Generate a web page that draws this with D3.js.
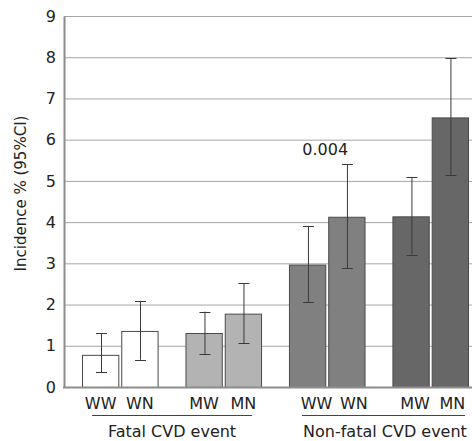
<!DOCTYPE html>
<html>
<head>
<meta charset="utf-8">
<script src="https://cdn.jsdelivr.net/npm/d3@7"></script>
<style>
    body { margin: 0; background: #fff; }
    svg text { font-family: "DejaVu Sans", Verdana, sans-serif; fill: #222; }
</style>
</head>
<body>
<div id="chart"></div>
<script>
    // groups of bars, two bars per pair
    var groups = ['Fatal CVD event', 'Non-fatal CVD event'];
    var pairs = ['F-W', 'F-M', 'N-W', 'N-M'];
    var pairGroup = [0, 0, 1, 1];
    var barLabels = [['WW', 'WN'], ['MW', 'MN'], ['WW', 'WN'], ['MW', 'MN']];
    var incidence = [[0.78, 1.36], [1.31, 1.78], [2.97, 4.13], [4.14, 6.54]];
    var ciLow = [[0.36, 0.66], [0.79, 1.06], [2.05, 2.88], [3.21, 5.14]];
    var ciHigh = [[1.31, 2.09], [1.83, 2.52], [3.91, 5.40], [5.09, 7.97]];
    var pairColors = ['#ffffff', '#b3b3b3', '#808080', '#676767'];
    var yTicks = [0, 1, 2, 3, 4, 5, 6, 7, 8, 9];
    var pValue = '0.004';

    var W = 472, H = 441;
    var margin = {top: 16, right: 0, bottom: 54, left: 64};
    var height = H - margin.top - margin.bottom;
    var width = W - margin.left - margin.right;
    var labelShift = [0, 0, 9, 4];

    var svg = d3.select('#chart').append('svg')
        .attr('width', W)
        .attr('height', H);

    var g = svg.append('g')
        .attr('transform', 'translate(' + margin.left + ',' + margin.top + ')');

    var y = d3.scaleLinear().domain([0, 9]).range([height, 0]);

    var x0 = d3.scaleBand()
        .domain(pairs)
        .range([18, 405])
        .paddingInner(0.26)
        .paddingOuter(0);

    var x1 = d3.scaleBand()
        .domain([0, 1])
        .range([0, x0.bandwidth()])
        .paddingInner(0.05);

    // grid lines
    g.append('g')
        .selectAll('line')
        .data(yTicks.slice(1))
        .enter().append('line')
        .attr('x1', 0)
        .attr('x2', width)
        .attr('y1', function (d) { return y(d) + 0.5; })
        .attr('y2', function (d) { return y(d) + 0.5; })
        .attr('stroke', '#a6a6a6')
        .attr('stroke-width', 1);

    // y axis
    var yAxis = g.append('g')
        .call(d3.axisLeft(y).tickValues(yTicks).tickSize(0).tickPadding(8));
    yAxis.select('.domain').attr('stroke', '#8c8c8c').attr('stroke-width', 2);
    yAxis.selectAll('text').style('font-size', '16px').attr('fill', '#222');

    g.append('text')
        .attr('transform', 'translate(' + (21 - margin.left) + ',' + (height / 2 - 8) + ') rotate(-90)')
        .attr('text-anchor', 'middle')
        .attr('dy', '0.35em')
        .style('font-size', '15px')
        .text('Incidence % (95%CI)');

    // bars
    var pair = g.selectAll('.pair')
        .data(pairs)
        .enter().append('g')
        .attr('class', 'pair')
        .attr('transform', function (d) { return 'translate(' + x0(d) + ',0)'; });

    pair.each(function (p, i) {
        var pg = d3.select(this);
        var rows = [0, 1].map(function (j) {
            return {j: j, v: incidence[i][j], lo: ciLow[i][j], hi: ciHigh[i][j], label: barLabels[i][j]};
        });

        pg.selectAll('rect')
            .data(rows)
            .enter().append('rect')
            .attr('x', function (d) { return x1(d.j) + 0.5; })
            .attr('y', function (d) { return y(d.v) + 0.5; })
            .attr('width', x1.bandwidth() - 1)
            .attr('height', function (d) { return height - y(d.v); })
            .attr('fill', pairColors[i])
            .attr('stroke', '#4a4a4a')
            .attr('stroke-width', 1);

        var err = pg.selectAll('.err')
            .data(rows)
            .enter().append('g')
            .attr('class', 'err')
            .attr('transform', function (d) {
                return 'translate(' + (Math.round(x1(d.j) + x1.bandwidth() / 2) + 0.5) + ',0)';
            });
        err.append('line')
            .attr('y1', function (d) { return y(d.hi); })
            .attr('y2', function (d) { return y(d.lo); })
            .attr('stroke', '#3a3a3a');
        err.append('line')
            .attr('x1', -5.5).attr('x2', 5.5)
            .attr('y1', function (d) { return Math.round(y(d.hi)) + 0.5; })
            .attr('y2', function (d) { return Math.round(y(d.hi)) + 0.5; })
            .attr('stroke', '#3a3a3a');
        err.append('line')
            .attr('x1', -5.5).attr('x2', 5.5)
            .attr('y1', function (d) { return Math.round(y(d.lo)) + 0.5; })
            .attr('y2', function (d) { return Math.round(y(d.lo)) + 0.5; })
            .attr('stroke', '#3a3a3a');

        pg.selectAll('.lbl')
            .data(rows)
            .enter().append('text')
            .attr('class', 'lbl')
            .attr('x', function (d) { return x1(d.j) + x1.bandwidth() / 2 + labelShift[i] - (pairGroup[i] && d.j ? 2 : 0); })
            .attr('y', height + 22)
            .attr('text-anchor', 'middle')
            .style('font-size', '16px')
            .text(function (d) { return d.label; });
    });

    // x axis line
    g.append('line')
        .attr('x1', -1).attr('x2', width)
        .attr('y1', height + 0.5).attr('y2', height + 0.5)
        .attr('stroke', '#8c8c8c')
        .attr('stroke-width', 2);

    // group underlines and titles
    var groupSpan = groups.map(function (name, k) {
        var ps = pairs.filter(function (p, i) { return pairGroup[i] === k; });
        return {name: name, x0: x0(ps[0]), x1: x0(ps[ps.length - 1]) + x0.bandwidth()};
    });

    g.selectAll('.grp-line')
        .data(groupSpan)
        .enter().append('line')
        .attr('class', 'grp-line')
        .attr('x1', function (d, k) { return d.x0 + (k ? 13 : 10); })
        .attr('x2', function (d, k) { return d.x1 - (k ? 4 : 10); })
        .attr('y1', height + 28.5)
        .attr('y2', height + 28.5)
        .attr('stroke', '#444');

    g.selectAll('.grp-title')
        .data(groupSpan)
        .enter().append('text')
        .attr('class', 'grp-title')
        .attr('x', function (d, k) { return (d.x0 + d.x1) / 2 + (k ? 6 : 0); })
        .attr('y', height + 50)
        .attr('text-anchor', 'middle')
        .style('font-size', '16px')
        .text(function (d) { return d.name; });

    // p value above non-fatal WW/WN pair
    g.append('text')
        .attr('x', x0('N-W') + x0.bandwidth() / 2 - 2)
        .attr('y', y(5.62))
        .attr('text-anchor', 'middle')
        .style('font-size', '16px')
        .text(pValue);
</script>
</body>
</html>
